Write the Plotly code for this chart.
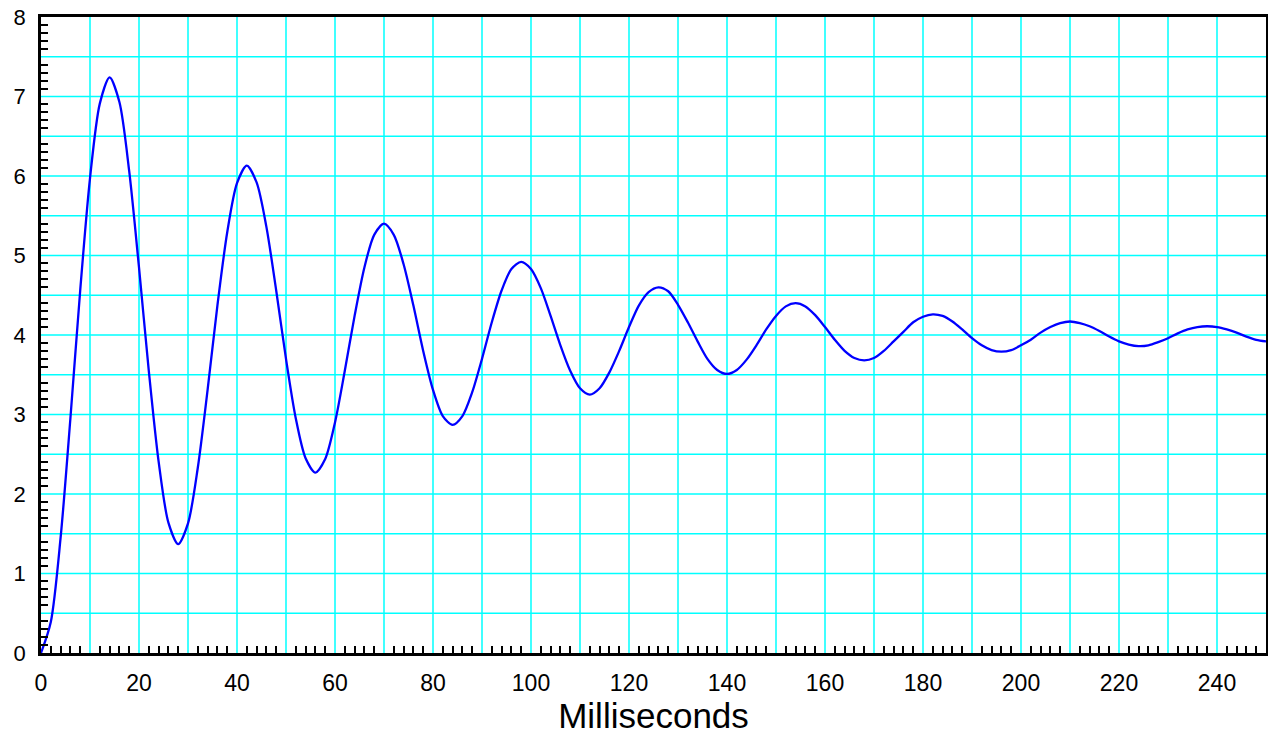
import plotly.graph_objects as go

# Time in milliseconds (sampled every 2 ms)
time_ms = list(range(0, 251, 2))

# Response values
response = [
    0.00, 0.39, 1.45, 2.95, 4.56, 5.97, 6.91, 7.24, 6.93, 6.06, 4.85, 3.55, 2.41, 1.64,
    1.37, 1.63, 2.33, 3.31, 4.37, 5.29, 5.91, 6.13, 5.92, 5.36, 4.56, 3.70, 2.95, 2.45,
    2.27, 2.44, 2.90, 3.55, 4.24, 4.85, 5.26, 5.40, 5.26, 4.89, 4.37, 3.80, 3.31, 2.98,
    2.87, 2.98, 3.28, 3.70, 4.16, 4.56, 4.83, 4.92, 4.83, 4.59, 4.24, 3.87, 3.55, 3.33,
    3.25, 3.33, 3.53, 3.80, 4.10, 4.37, 4.54, 4.60, 4.55, 4.38, 4.16, 3.92, 3.70, 3.56,
    3.51, 3.56, 3.69, 3.87, 4.07, 4.24, 4.36, 4.40, 4.36, 4.25, 4.10, 3.94, 3.80, 3.71,
    3.68, 3.71, 3.80, 3.92, 4.04, 4.16, 4.23, 4.26, 4.24, 4.17, 4.07, 3.96, 3.87, 3.81,
    3.79, 3.81, 3.87, 3.94, 4.03, 4.10, 4.15, 4.17, 4.15, 4.11, 4.05, 3.98, 3.92, 3.88,
    3.86, 3.87, 3.91, 3.96, 4.02, 4.07, 4.10, 4.11, 4.10, 4.07, 4.03, 3.98, 3.94, 3.92,
]

# Axis tick labels
x_tick_vals = list(range(0, 241, 20))
x_tick_labels = [str(v) for v in x_tick_vals]
y_tick_vals = list(range(0, 9))
y_tick_labels = [str(v) for v in y_tick_vals]

# grid positions and small tick positions
x_grid = list(range(10, 250, 10))
y_grid = [i * 0.5 for i in range(1, 16)]
x_small = [v for v in range(0, 251, 2) if v % 10 != 0]
y_small = [i / 10 for i in range(0, 81) if i % 5 != 0]

FONT = "Liberation Sans, Arial, Helvetica, sans-serif"
GRID = "#00FFFF"

fig = go.Figure()
fig.add_trace(go.Scatter(
    x=time_ms, y=response, mode="lines",
    line=dict(color="#0000FF", width=2.3, shape="spline", smoothing=0.8),
    hoverinfo="skip", showlegend=False,
))
# invisible trace to carry the overlay tick axes
fig.add_trace(go.Scatter(
    x=[0, 250], y=[0, 8], mode="markers", marker=dict(opacity=0),
    xaxis="x2", yaxis="y2", hoverinfo="skip", showlegend=False,
))

shapes = []
for gx in x_grid:
    shapes.append(dict(type="line", xref="x", yref="paper", x0=gx, x1=gx, y0=0, y1=1,
                       line=dict(color=GRID, width=1.5), layer="below"))
for gy in y_grid:
    shapes.append(dict(type="line", xref="paper", yref="y", x0=0, x1=1, y0=gy, y1=gy,
                       line=dict(color=GRID, width=1.5), layer="below"))

fig.update_layout(
    template="none",
    width=1268, height=735,
    margin=dict(l=41, r=2, t=17, b=82),
    paper_bgcolor="white", plot_bgcolor="white",
    font=dict(family=FONT, color="black"),
    shapes=shapes,
    xaxis=dict(
        range=[0, 250], tickmode="array", tickvals=x_tick_vals, ticktext=x_tick_labels,
        ticks="", showgrid=False,
        showline=True, linecolor="black", linewidth=2.5, mirror=True,
        zeroline=False, tickfont=dict(size=23, family=FONT),
        ticklabelstandoff=8, automargin=False,
        title=dict(text="Milliseconds", font=dict(size=35, family=FONT), standoff=2),
    ),
    yaxis=dict(
        range=[0, 8], tickmode="array", tickvals=y_tick_vals, ticktext=y_tick_labels,
        ticks="", showgrid=False,
        showline=True, linecolor="black", linewidth=2.5, mirror=True,
        zeroline=False, tickfont=dict(size=22, family=FONT),
        ticklabelstandoff=8, automargin=False,
    ),
    xaxis2=dict(
        overlaying="x", anchor="y2", side="bottom", range=[0, 250],
        tickmode="array", tickvals=x_small, ticks="inside", ticklen=7,
        tickwidth=1.5, tickcolor="black", showticklabels=False,
        showgrid=False, zeroline=False, showline=False,
    ),
    yaxis2=dict(
        overlaying="y", anchor="x2", side="left", range=[0, 8],
        tickmode="array", tickvals=y_small, ticks="inside", ticklen=7,
        tickwidth=1.5, tickcolor="black", showticklabels=False,
        showgrid=False, zeroline=False, showline=False,
    ),
)

fig.write_html(
    "out.html",
    config={"displayModeBar": False},
    post_script="document.body.style.margin='0';document.body.style.padding='0';",
)
